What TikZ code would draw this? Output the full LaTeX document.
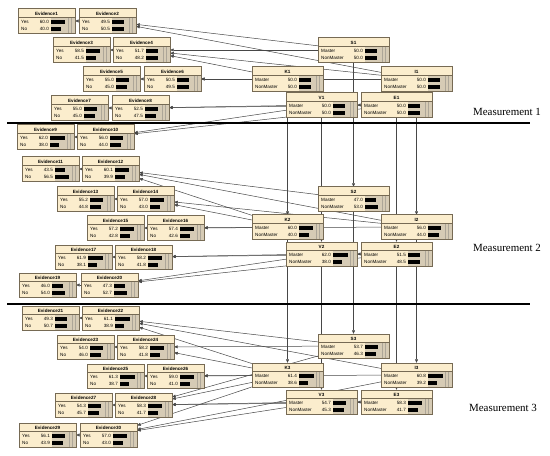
\documentclass[tikz,border=0pt]{standalone}
\usepackage{fontspec}
\setmainfont{Liberation Serif}
\newfontfamily\netfont{Liberation Sans}
\usetikzlibrary{arrows.meta,backgrounds}
\definecolor{boxfill}{RGB}{251,237,205}
\definecolor{barfill}{RGB}{214,203,181}
\definecolor{boxedge}{RGB}{118,106,84}

% one Netica-like node: name, left x, top y, width, title, state1, value1, state2, value2
\newcommand{\netbox}[9]{%
  \node[netnode,minimum width=#4bp] (#1) at (#2+#4/2,#3+12) {};
  \fill[barfill] (#2+#4-24,#3+8.5) rectangle (#2+#4,#3+24);
  \foreach \g in {17,20.5}{\draw[gridline] (#2+#4-24+\g,#3+8.5) -- (#2+#4-24+\g,#3+24);}
  \draw[boxedge,line width=0.4bp] (#2,#3+8.5) -- (#2+#4,#3+8.5);
  \node[titletext] at (#2+#4/2,#3+6.2) {#5};
  \node[rowtext,anchor=base west] at (#2+3,#3+14.4) {#6};
  \node[rowtext,anchor=base east] at (#2+#4-26,#3+14.4) {#7};
  \node[rowtext,anchor=base west] at (#2+3,#3+21.6) {#8};
  \node[rowtext,anchor=base east] at (#2+#4-26,#3+21.6) {#9};
  \fill (#2+#4-24,#3+10.6) rectangle ++(0.24*#7,4);
  \fill (#2+#4-24,#3+17.8) rectangle ++(0.24*#9,4);
  \draw[boxedge,line width=0.6bp] (#1.north west) rectangle (#1.south east);
}
\newcommand{\evbox}[5]{\netbox{ev#1}{#2}{#3}{57}{Evidence#1}{Yes}{#4}{No}{#5}}
\newcommand{\cbox}[6]{\netbox{#1}{#2}{#3}{71}{#4}{Master}{#5}{NonMaster}{#6}}

\begin{document}
\begin{tikzpicture}[
  x=1bp,y=-1bp,
  netnode/.style={rectangle,fill=boxfill,inner sep=0pt,minimum height=24bp},
  titletext/.style={inner sep=0pt,anchor=base,font=\netfont\bfseries\fontsize{4.6}{5}\selectfont},
  rowtext/.style={inner sep=0pt,font=\netfont\fontsize{4.6}{5}\selectfont},
  gridline/.style={draw=boxedge!60,line width=0.3bp},
  link/.style={draw=black!72,line width=0.5bp,-{Triangle[length=3.5bp,width=3bp]}},
  sepline/.style={line width=2bp},
  measure/.style={font=\fontsize{11}{13}\selectfont,inner sep=0pt}]
  \useasboundingbox (0,0) rectangle (550,456);
  % measurement 1
  \evbox{1}{18}{9}{60.0}{40.0}\evbox{2}{79}{9}{49.5}{50.5}
  \evbox{3}{53}{38}{58.5}{41.5}\evbox{4}{113}{38}{51.7}{48.2}
  \evbox{5}{83}{67}{55.0}{45.0}\evbox{6}{144}{67}{50.5}{49.5}
  \evbox{7}{51}{96}{55.0}{45.0}\evbox{8}{112}{96}{52.5}{47.5}
  \evbox{9}{17}{125}{62.0}{38.0}\evbox{10}{77}{125}{56.0}{44.0}
  \cbox{s1}{318}{38}{S1}{50.0}{50.0}
  \cbox{k1}{252}{67}{K1}{50.0}{50.0}\cbox{i1}{381}{67}{I1}{50.0}{50.0}
  \cbox{v1}{286}{93}{V1}{50.0}{50.0}\cbox{e1}{361}{93}{E1}{50.0}{50.0}
  % measurement 2
  \evbox{11}{22}{157}{43.5}{56.5}\evbox{12}{82}{157}{60.1}{39.9}
  \evbox{13}{57}{187}{55.2}{44.8}\evbox{14}{117}{187}{57.0}{43.0}
  \evbox{15}{87}{216}{57.2}{42.8}\evbox{16}{147}{216}{57.4}{42.6}
  \evbox{17}{55}{245}{61.9}{38.1}\evbox{18}{115}{245}{58.2}{41.8}
  \evbox{19}{19}{273}{46.0}{54.0}\evbox{20}{81}{273}{47.3}{52.7}
  \cbox{s2}{318}{187}{S2}{47.0}{53.0}
  \cbox{k2}{252}{215}{K2}{60.0}{40.0}\cbox{i2}{381}{215}{I2}{56.0}{44.0}
  \cbox{v2}{286}{242}{V2}{62.0}{38.0}\cbox{e2}{361}{242}{E2}{51.5}{48.5}
  % measurement 3
  \evbox{21}{22}{306}{49.3}{50.7}\evbox{22}{82}{306}{61.1}{38.9}
  \evbox{23}{57}{335}{54.0}{46.0}\evbox{24}{117}{335}{58.2}{41.8}
  \evbox{25}{87}{364}{61.3}{38.7}\evbox{26}{147}{364}{59.0}{41.0}
  \evbox{27}{55}{393}{54.3}{45.7}\evbox{28}{115}{393}{58.3}{41.7}
  \evbox{29}{19}{423}{56.1}{43.9}\evbox{30}{80}{423}{57.0}{43.0}
  \cbox{s3}{318}{334}{S3}{53.7}{46.3}
  \cbox{k3}{252}{363}{K3}{61.4}{38.6}\cbox{i3}{381}{363}{I3}{60.8}{39.2}
  \cbox{v3}{286}{390}{V3}{54.7}{45.3}\cbox{e3}{361}{390}{E3}{58.3}{41.7}
  % arcs, behind the boxes
  \begin{scope}[on background layer]
    \foreach \a/\b in {2/1,4/3,6/5,8/7,10/9,12/11,14/13,16/15,18/17,20/19,
                       22/21,24/23,26/25,28/27,30/29}{\draw[link] (ev\a) -- (ev\b);}
    \foreach \p/\c in {s1/ev2,i1/ev2,s1/ev4,k1/ev4,i1/ev4,k1/ev6,i1/ev6,
                       v1/ev8,e1/ev8,v1/ev10,e1/ev10,
                       s2/ev12,i2/ev12,k2/ev12,k2/ev14,i2/ev14,k2/ev16,i2/ev16,
                       v2/ev18,e2/ev18,v2/ev20,e2/ev20,
                       s3/ev22,i3/ev22,k3/ev22,s3/ev24,k3/ev24,k3/ev26,i3/ev26,
                       s3/ev28,k3/ev28,v3/ev28,e3/ev28,k3/ev30,v3/ev30,i3/ev30}
      {\draw[link] (\p) -- (\c);}
    \foreach \t in {s,k,i,v,e}{\draw[link] (\t1) -- (\t2);\draw[link] (\t2) -- (\t3);}
    \foreach \n in {1,2,3}{\draw[link] (e\n) -- (v\n);}
  \end{scope}
  % measurement separators and labels
  \draw[sepline] (7,123) -- (530,123);
  \draw[sepline] (7,304) -- (530,304);
  \node[measure] (m1) at (507,112) {Measurement 1};
  \node[measure] (m2) at (507,248) {Measurement 2};
  \node[measure] (m3) at (503,408) {Measurement 3};
\end{tikzpicture}
\end{document}
